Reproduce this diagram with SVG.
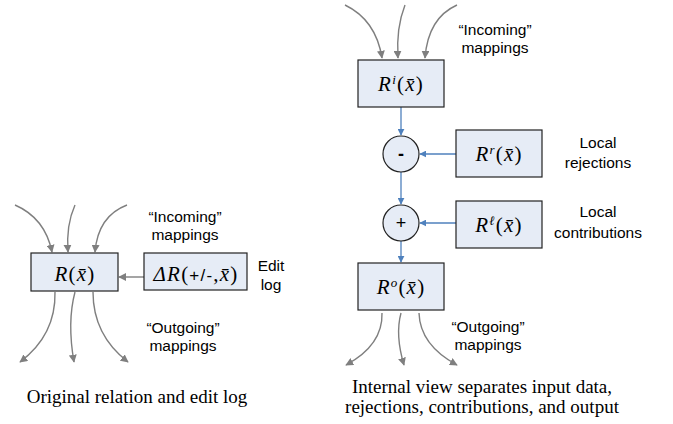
<svg xmlns="http://www.w3.org/2000/svg" width="673" height="424" viewBox="0 0 673 424">
<defs>
<style>
.box{fill:#e6ecf6;stroke:#222;stroke-width:1.2}
.circ{fill:#e6ecf6;stroke:#222;stroke-width:1.2}
.g{fill:none;stroke:#7f7f7f;stroke-width:1.4}
.b{fill:none;stroke:#4f81bd;stroke-width:1.3}
.lbl{font-family:"Liberation Sans",Arial,sans-serif;font-size:15.5px;fill:#000;text-anchor:middle}
.cap{font-family:"Liberation Serif","Times New Roman",serif;font-size:19px;fill:#000;text-anchor:middle}
.m{font-family:"Liberation Serif","Times New Roman",serif;font-size:21px;fill:#000;text-anchor:middle;letter-spacing:1.2px}
.mi{font-style:italic}
.op{font-family:"Liberation Sans",Arial,sans-serif;font-size:18px;fill:#000;text-anchor:middle}
</style>
<marker id="ag" viewBox="0 0 10 10" refX="9" refY="5" markerWidth="8" markerHeight="8" markerUnits="userSpaceOnUse" orient="auto">
<path d="M0,0 L10,5 L0,10 z" fill="#7f7f7f"/>
</marker>
<marker id="ab" viewBox="0 0 10 10" refX="9" refY="5" markerWidth="7" markerHeight="7" markerUnits="userSpaceOnUse" orient="auto">
<path d="M0,0 L10,5 L0,10 z" fill="#4f81bd"/>
</marker>
</defs>

<g id="connectors">
<path class="g" d="M15,205 Q45,218 52,252" marker-end="url(#ag)"/>
<path class="g" d="M75,205 Q66,225 68,252" marker-end="url(#ag)"/>
<path class="g" d="M127,205 Q98,216 95,252" marker-end="url(#ag)"/>
<path class="g" d="M55,292 Q56,335 20,362" marker-end="url(#ag)"/>
<path class="g" d="M75,292 Q67,322 74,362" marker-end="url(#ag)"/>
<path class="g" d="M93,292 Q93,335 128,362" marker-end="url(#ag)"/>
<path class="g" d="M144,277 L119,277" marker-end="url(#ag)"/>
<path class="g" d="M345,5 Q376,20 382,58" marker-end="url(#ag)"/>
<path class="g" d="M405,5 Q396,28 398,58" marker-end="url(#ag)"/>
<path class="g" d="M457,5 Q428,18 425,58" marker-end="url(#ag)"/>
<path class="g" d="M382,313 Q383,345 346,365" marker-end="url(#ag)"/>
<path class="g" d="M401,313 Q395,335 404,365" marker-end="url(#ag)"/>
<path class="g" d="M419,313 Q420,345 457,365" marker-end="url(#ag)"/>
<path class="b" d="M401,107 L401,135" marker-end="url(#ab)"/>
<path class="b" d="M456,154 L420,154" marker-end="url(#ab)"/>
<path class="b" d="M401,172 L401,204" marker-end="url(#ab)"/>
<path class="b" d="M456,223 L420,223" marker-end="url(#ab)"/>
<path class="b" d="M401,241 L401,262" marker-end="url(#ab)"/>
</g>

<g id="R">
<rect class="box" x="31" y="253" width="87" height="38"/>
<text class="m" x="75" y="281"><tspan class="mi">R</tspan>(<tspan class="mi">x̄</tspan>)</text>
</g>
<g id="dR">
<rect class="box" x="144" y="253" width="103" height="37"/>
<text class="m" x="196" y="281"><tspan class="mi">ΔR</tspan>(<tspan font-family="Liberation Sans,Arial,sans-serif" font-size="17">+/-</tspan>,<tspan class="mi">x̄</tspan>)</text>
</g>
<g id="editlog">
<text class="lbl" x="271" y="271">Edit</text>
<text class="lbl" x="271" y="290">log</text>
</g>
<g id="left-labels">
<text class="lbl" x="185" y="222">“Incoming”</text>
<text class="lbl" x="185" y="240">mappings</text>
<text class="lbl" x="183" y="333">“Outgoing”</text>
<text class="lbl" x="183" y="351">mappings</text>
<text class="cap" x="137" y="403">Original relation and edit log</text>
</g>

<g id="Ri">
<rect class="box" x="358" y="60" width="86" height="47"/>
<text class="m" x="401" y="91"><tspan class="mi">R</tspan><tspan class="mi" font-size="13" dy="-7">i</tspan><tspan dy="7">(</tspan><tspan class="mi">x̄</tspan>)</text>
</g>
<g id="minus">
<circle class="circ" cx="401" cy="154" r="18"/>
<text class="op" x="401" y="160" font-weight="bold">-</text>
</g>
<g id="Rr">
<rect class="box" x="456" y="130" width="86" height="47"/>
<text class="m" x="499" y="161"><tspan class="mi">R</tspan><tspan class="mi" font-size="13" dy="-7">r</tspan><tspan dy="7">(</tspan><tspan class="mi">x̄</tspan>)</text>
</g>
<g id="plus">
<circle class="circ" cx="401" cy="223" r="18"/>
<text class="op" x="401" y="229">+</text>
</g>
<g id="Rl">
<rect class="box" x="456" y="201" width="86" height="47"/>
<text class="m" x="499" y="232"><tspan class="mi">R</tspan><tspan class="mi" font-size="13" dy="-7">ℓ</tspan><tspan dy="7">(</tspan><tspan class="mi">x̄</tspan>)</text>
</g>
<g id="Ro">
<rect class="box" x="358" y="263" width="86" height="47"/>
<text class="m" x="401" y="294"><tspan class="mi">R</tspan><tspan class="mi" font-size="13" dy="-7">o</tspan><tspan dy="7">(</tspan><tspan class="mi">x̄</tspan>)</text>
</g>
<g id="right-labels">
<text class="lbl" x="495" y="35">“Incoming”</text>
<text class="lbl" x="495" y="53">mappings</text>
<text class="lbl" x="598" y="148">Local</text>
<text class="lbl" x="598" y="168">rejections</text>
<text class="lbl" x="598" y="217">Local</text>
<text class="lbl" x="598" y="238">contributions</text>
<text class="lbl" x="488" y="332">“Outgoing”</text>
<text class="lbl" x="488" y="350">mappings</text>
<text class="cap" x="482" y="393">Internal view separates input data,</text>
<text class="cap" x="482" y="413">rejections, contributions, and output</text>
</g>
</svg>
